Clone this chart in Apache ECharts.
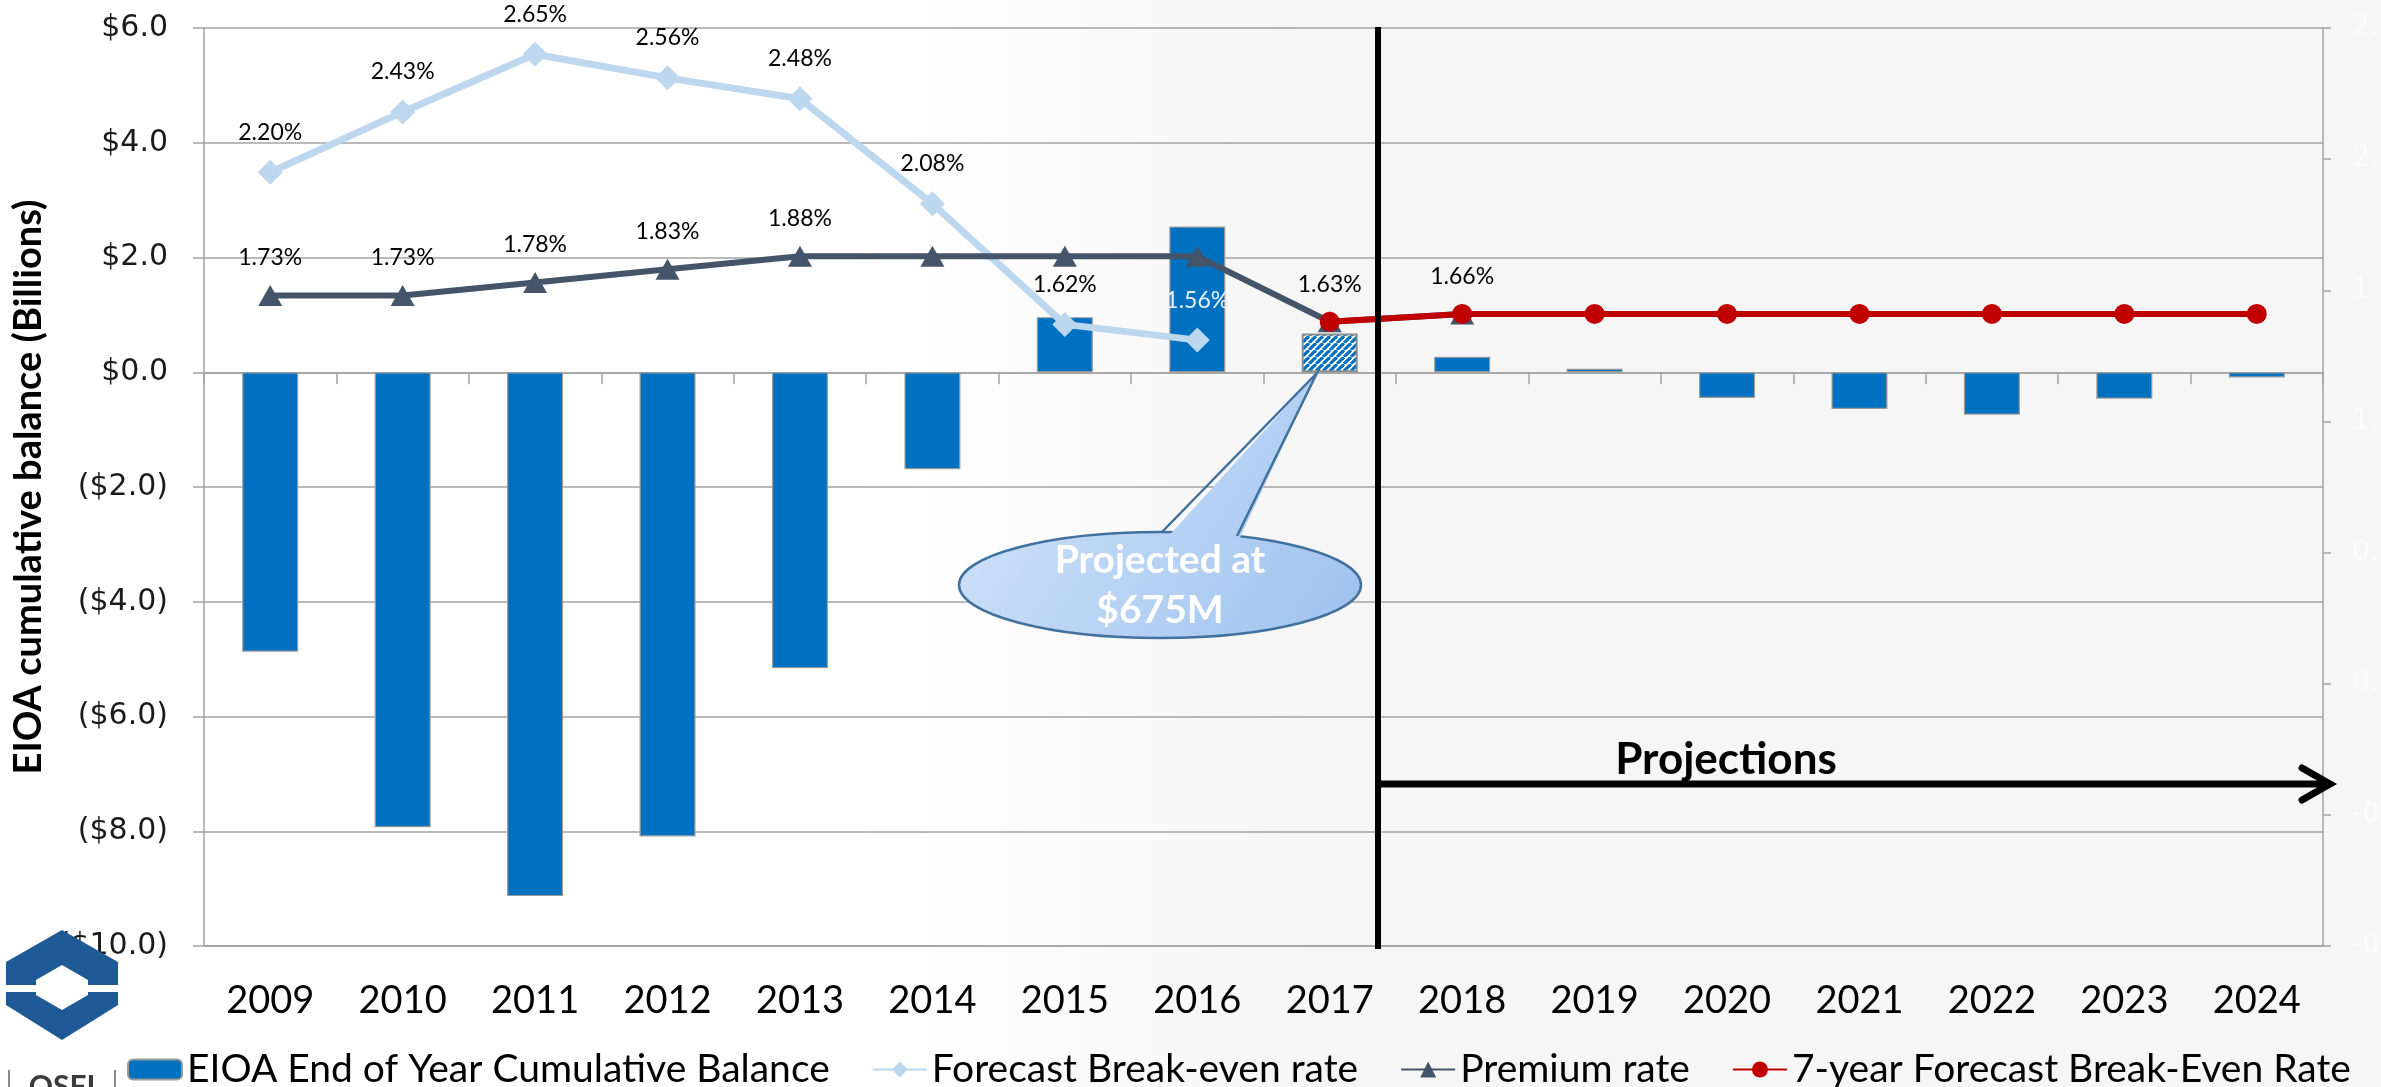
<!DOCTYPE html>
<html><head><meta charset="utf-8">
<script src="https://cdn.jsdelivr.net/npm/echarts@6/dist/echarts.min.js"></script>
<style>html,body{margin:0;padding:0;background:#fff}#c{width:2381px;height:1087px}</style>
</head><body><div id="c"></div><script>
// ---------- data ----------
const categories = ['2009','2010','2011','2012','2013','2014','2015','2016','2017','2018','2019','2020','2021','2022','2023','2024'];
const cumulativeBalance = [-4.87,-7.93,-9.13,-8.09,-5.16,-1.69,0.96,2.54,0.675,0.27,0.06,-0.45,-0.64,-0.74,-0.46,-0.09];
const forecastBreakEven = [2.20,2.43,2.65,2.56,2.48,2.08,1.62,1.56,null,null,null,null,null,null,null,null];
const premiumRate = [1.73,1.73,1.78,1.83,1.88,1.88,1.88,1.88,1.63,1.66,null,null,null,null,null,null];
const sevenYearBreakEven = [null,null,null,null,null,null,null,null,1.63,1.66,1.66,1.66,1.66,1.66,1.66,1.66];
const balanceAxis = {min:-10, max:6, step:2};
const rateAxis = {min:-0.75, max:2.75, step:0.5};
const projectedYear = '2017';
const premiumLabelYears = ['2009','2010','2011','2012','2013'];
const sevenYearLabelYears = ['2017','2018'];
const seriesNames = ['EIOA End of Year Cumulative Balance','Forecast Break-even rate','Premium rate','7-year Forecast Break-Even Rate'];

// ---------- styles ----------
const hatch = document.createElement('canvas'); hatch.width = 7; hatch.height = 7;
const hg = hatch.getContext('2d');
hg.fillStyle = '#ffffff'; hg.fillRect(0,0,7,7);
hg.strokeStyle = '#0070c0'; hg.lineWidth = 3.2;
for (const o of [-7,0,7]) { hg.beginPath(); hg.moveTo(o,7); hg.lineTo(o+7,0); hg.stroke(); }

const lbl = {show:true, position:'top', distance:16, fontFamily:'Lato', fontSize:23, color:'#000',
  formatter: p => (p.value == null ? '' : p.value.toFixed(2) + '%')};
const money = v => v >= 0 ? '$' + v.toFixed(1) : '($' + (-v).toFixed(1) + ')';
const gridGray = '#a3a3a3';

const chart = echarts.init(document.getElementById('c'), null, {renderer:'canvas'});
const calloutGrad = {type:'linear', x:960, y:373, x2:1360, y2:640, global:true,
  colorStops:[{offset:0,color:'#d7e7fa'},{offset:1,color:'#9dc1ee'}]};
const logoBlue = '#1f5a97';

chart.setOption({
  animation:false,
  grid:{left:204, right:58, top:28, bottom:141, containLabel:false, outerBoundsMode:'none'},
  legend:{left:122, top:1045, itemGap:42, itemWidth:54, itemHeight:20,
    textStyle:{fontFamily:'Lato', fontSize:39, color:'#000'}, data:seriesNames},
  xAxis:[
    {type:'category', data:categories, position:'top',
      axisLine:{onZero:true, onZeroAxisIndex:0, lineStyle:{color:gridGray, width:1.5}},
      axisTick:{show:true, inside:true, length:12, lineStyle:{color:gridGray, width:1.5}},
      axisLabel:{show:false}, splitLine:{show:false}},
    {type:'category', data:categories, position:'bottom',
      axisLine:{onZero:false, lineStyle:{color:gridGray, width:1.5}},
      axisTick:{show:false},
      axisLabel:{margin:36, fontFamily:'Lato', fontSize:38, color:'#000'}, splitLine:{show:false}}
  ],
  yAxis:[
    {type:'value', min:balanceAxis.min, max:balanceAxis.max, interval:balanceAxis.step, position:'left',
      name:'EIOA cumulative balance (Billions)', nameLocation:'middle', nameRotate:90, nameGap:153,
      nameTextStyle:{fontFamily:'Lato', fontWeight:'bold', fontSize:38, color:'#000'},
      axisLine:{show:true, lineStyle:{color:gridGray, width:1.5}},
      axisTick:{show:true, length:11, lineStyle:{color:gridGray, width:1.5}},
      axisLabel:{margin:36, fontFamily:'DejaVu Sans', fontSize:30, color:'#1a1a1a', formatter:money},
      splitLine:{show:true, lineStyle:{color:gridGray, width:1.5}}},
    {type:'value', min:rateAxis.min, max:rateAxis.max, interval:rateAxis.step, position:'right',
      axisLine:{show:true, lineStyle:{color:gridGray, width:1.5}},
      axisTick:{show:true, length:8, lineStyle:{color:gridGray, width:1.5}},
      axisLabel:{margin:29, fontFamily:'DejaVu Sans', fontSize:28, color:'#fbfbfb', formatter:v => v.toFixed(2) + '%'},
      splitLine:{show:false}}
  ],
  series:[
    {name:seriesNames[0], type:'bar', xAxisIndex:0, yAxisIndex:0, barWidth:56, z:2,
      itemStyle:{color:'#0070c0', borderColor:'#9a9a9a', borderWidth:1.2},
      data:cumulativeBalance.map((v,i) => categories[i] === projectedYear
        ? {value:v, itemStyle:{color:{image:hatch, repeat:'repeat'}, borderColor:'#8c8c8c', borderWidth:2}} : v)},
    {name:seriesNames[1], type:'line', xAxisIndex:0, yAxisIndex:1, z:3,
      lineStyle:{color:'#bdd7ee', width:7}, itemStyle:{color:'#bdd7ee'},
      symbol:'diamond', symbolSize:[25,25],
      label:lbl,
      data:forecastBreakEven.map((v,i) => i === 7 ? {value:v, label:{color:'#e9f0f9'}} : v)},
    {name:seriesNames[2], type:'line', xAxisIndex:0, yAxisIndex:1, z:4,
      lineStyle:{color:'#44546a', width:6}, itemStyle:{color:'#44546a'},
      symbol:'triangle', symbolSize:[24,21],
      label:lbl,
      data:premiumRate.map((v,i) => ({value:v, label:{show:premiumLabelYears.includes(categories[i])}}))},
    {name:seriesNames[3], type:'line', xAxisIndex:0, yAxisIndex:1, z:5,
      lineStyle:{color:'#c00000', width:6}, itemStyle:{color:'#c00000'},
      symbol:'circle', symbolSize:20,
      label:lbl,
      data:sevenYearBreakEven.map((v,i) => ({value:v, label:{show:sevenYearLabelYears.includes(categories[i])}}))}
  ],
  graphic:[
    {type:'rect', z:-100, silent:true, shape:{x:0,y:0,width:2381,height:1087},
      style:{fill:{type:'linear', x:0,y:0,x2:1,y2:0, colorStops:[
        {offset:0,color:'#ffffff'},{offset:0.36,color:'#ffffff'},{offset:0.55,color:'#f6f6f6'},{offset:1,color:'#f6f6f6'}]}}},
    // projections divider and arrow
    {type:'line', z:100, shape:{x1:1378,y1:27,x2:1378,y2:949}, style:{stroke:'#000', lineWidth:6}},
    {type:'line', z:100, shape:{x1:1378,y1:784,x2:2328,y2:784}, style:{stroke:'#000', lineWidth:7}},
    {type:'polyline', z:100, shape:{points:[[2302,768],[2330,784],[2302,800]]},
      style:{stroke:'#000', lineWidth:7, fill:null, lineJoin:'miter', lineCap:'round'}},
    {type:'text', z:100, x:1726, y:760, style:{text:'Projections', fontFamily:'Lato', fontWeight:'bold',
      fontSize:44, fill:'#000', align:'center', verticalAlign:'middle'}},
    // callout
    {type:'ellipse', z:100, shape:{cx:1160, cy:585, rx:201, ry:53},
      style:{fill:calloutGrad, stroke:'#41719c', lineWidth:2.5}},
    {type:'polygon', z:101, shape:{points:[[1163,542],[1317,373],[1236,546]]}, style:{fill:calloutGrad}},
    {type:'polyline', z:102, shape:{points:[[1162,532],[1317,373],[1237,536]]},
      style:{stroke:'#41719c', lineWidth:2.5, fill:null}},
    {type:'text', z:103, x:1160, y:585, style:{text:'Projected at\n$675M', fontFamily:'Lato', fontWeight:'bold',
      fontSize:39, lineHeight:50, fill:'#ffffff', align:'center', verticalAlign:'middle'}},
    // logo
    {type:'polygon', z:100, shape:{points:[[6,985],[6,962],[62,930],[118,962],[118,985],[88,985],[88,980],[62,965],[36,980],[36,985]]},
      style:{fill:logoBlue}},
    {type:'polygon', z:100, shape:{points:[[6,992],[36,992],[36,995],[62,1010],[88,995],[88,992],[118,992],[118,1005],[62,1040],[6,1005]]},
      style:{fill:logoBlue}},
    {type:'text', z:100, x:62, y:1072, style:{text:'OSFI', fontFamily:'Lato', fontWeight:'bold', fontSize:30,
      fill:'#3a3a3a', align:'center', verticalAlign:'top'}},
    {type:'line', z:100, shape:{x1:9,y1:1070,x2:9,y2:1087}, style:{stroke:'#8a8a8a', lineWidth:2}},
    {type:'line', z:100, shape:{x1:115,y1:1070,x2:115,y2:1087}, style:{stroke:'#8a8a8a', lineWidth:2}}
  ]
});
</script></body></html>
